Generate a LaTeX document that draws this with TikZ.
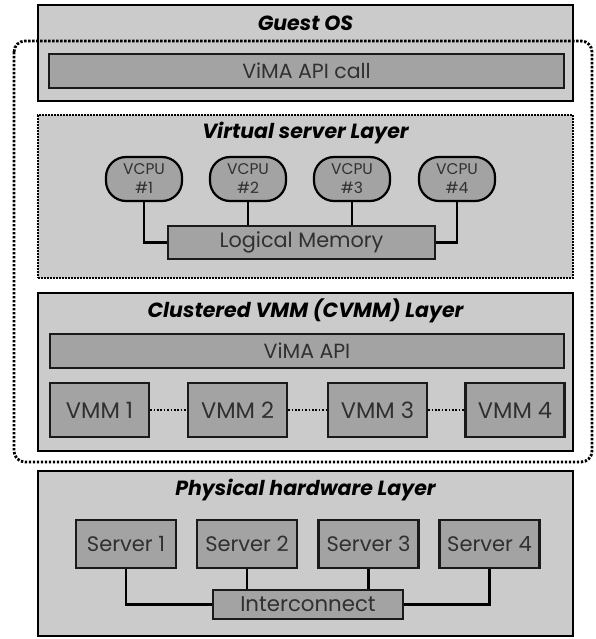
\documentclass[tikz,border=0pt]{standalone}
\usepackage{fontspec}
\setmainfont{Poppins}
\definecolor{outerfill}{HTML}{CBCBCB}
\definecolor{innerfill}{HTML}{A3A3A3}
\definecolor{txtgray}{HTML}{303030}
\definecolor{edgecol}{HTML}{1A1A1A}
\tikzset{
  layerbox/.style={draw=black, line width=2.4pt, fill=outerfill, inner sep=0pt},
  dotlayer/.style={draw=black, line width=2pt, dash pattern=on 1.8pt off 1.2pt, fill=outerfill, inner sep=0pt},
  bar/.style={draw=edgecol, line width=2pt, fill=innerfill, inner sep=0pt, text=txtgray, font=\fontsize{20.5}{22}\selectfont},
  unitbox/.style={draw=edgecol, line width=2.2pt, fill=innerfill, inner sep=0pt, minimum width=99pt, text=txtgray, font=\fontsize{21}{24}\selectfont},
  vcpu/.style={draw=black, line width=2.2pt, fill=innerfill, rounded corners=20pt, minimum width=76pt, minimum height=44pt, inner sep=0pt, align=center, text=txtgray, font=\fontsize{15.5}{19}\selectfont},
  title/.style={font=\fontsize{20.5}{22}\selectfont\bfseries\itshape, inner sep=0pt},
  wire/.style={draw=black, line width=2.1pt},
  dotwire/.style={draw=black, line width=2pt, dash pattern=on 1.6pt off 1.8pt},
  outerdot/.style={draw=black, line width=2.8pt, dash pattern=on 2.4pt off 1.6pt, rounded corners=11pt}
}
\begin{document}
\begin{tikzpicture}[x=1pt, y=-1pt]
\useasboundingbox (0,0) rectangle (596,639);
% Guest OS
\node[layerbox, minimum width=535pt, minimum height=96pt] (guest) at (305.5,53) {};
\node[title] (guestT) at (305.5,23) {Guest OS};
\node[bar, minimum width=515pt, minimum height=34pt] (apicall) at (306.5,71) {ViMA API call};
% Virtual server layer
\node[dotlayer, minimum width=535pt, minimum height=163pt] (vsl) at (305.5,196.5) {};
\node[title] (vslT) at (305.5,133) {Virtual server Layer};
\node[vcpu] (v1) at (144,179) {VCPU\\\#1};
\node[vcpu] (v2) at (248,179) {VCPU\\\#2};
\node[vcpu] (v3) at (352,179) {VCPU\\\#3};
\node[vcpu] (v4) at (457,179) {VCPU\\\#4};
\node[bar, minimum width=267pt, minimum height=33pt, font=\fontsize{20.8}{22}\selectfont] (lm) at (301.5,242.5) {Logical Memory};
\draw[wire] (v1.south) |- (lm.west);
\draw[wire] (v2.south) -- (v2.south |- lm.north);
\draw[wire] (v3.south) -- (v3.south |- lm.north);
\draw[wire] (v4.south) |- (lm.east);
% CVMM layer
\node[layerbox, minimum width=535pt, minimum height=158pt] (cvmm) at (305.5,372) {};
\node[title] (cvmmT) at (305.5,311) {Clustered VMM (CVMM) Layer};
\node[bar, minimum width=514pt, minimum height=34pt] (api) at (307,351) {ViMA API};
\node[unitbox, minimum height=54pt, font=\fontsize{22.5}{24}\selectfont] (m1) at (99.5,410) {VMM 1};
\node[unitbox, minimum height=54pt, font=\fontsize{22.5}{24}\selectfont] (m2) at (237.5,410) {VMM 2};
\node[unitbox, minimum height=54pt, font=\fontsize{22.5}{24}\selectfont] (m3) at (377.5,410) {VMM 3};
\node[unitbox, minimum height=54pt, font=\fontsize{22.5}{24}\selectfont] (m4) at (515,410) {VMM 4};
\draw[dotwire] (m1.east) -- (m2.west);
\draw[dotwire] (m2.east) -- (m3.west);
\draw[dotwire] (m3.east) -- (m4.west);
% Physical hardware layer
\node[layerbox, minimum width=535pt, minimum height=165pt] (phys) at (305.5,553.5) {};
\node[title] (physT) at (305.5,490) {Physical hardware Layer};
\node[unitbox, minimum width=100pt, minimum height=48pt] (s1) at (126,544) {Server 1};
\node[unitbox, minimum width=100pt, minimum height=48pt] (s2) at (247,544) {Server 2};
\node[unitbox, minimum width=100pt, minimum height=48pt] (s3) at (368.5,544) {Server 3};
\node[unitbox, minimum width=100pt, minimum height=48pt] (s4) at (489.5,544) {Server 4};
\node[bar, minimum width=190pt, minimum height=29pt, font=\fontsize{21.3}{22}\selectfont] (ic) at (308,604.5) {Interconnect};
\draw[wire] (s1.south) |- (ic.west);
\draw[wire] (s2.south) -- (s2.south |- ic.north);
\draw[wire] (s3.south) -- (s3.south |- ic.north);
\draw[wire] (s4.south) |- (ic.east);
% outer dotted boundary
\coordinate (oa) at (14,41);
\coordinate (ob) at (592,462);
\draw[outerdot] (oa) rectangle (ob);
\end{tikzpicture}
\end{document}
